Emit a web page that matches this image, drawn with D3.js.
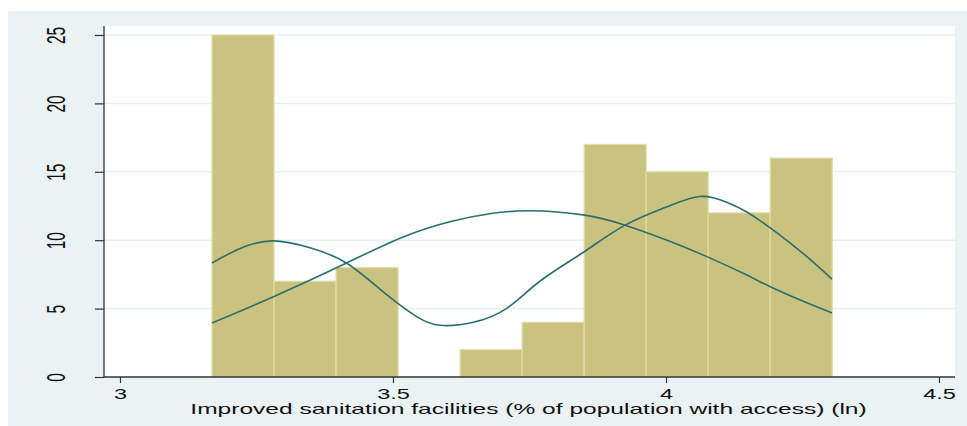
<!DOCTYPE html>
<html>
<head>
<meta charset="utf-8">
<script src="https://cdn.jsdelivr.net/npm/d3@7/dist/d3.min.js"></script>
<style>
  html, body { margin: 0; padding: 0; background: #ffffff; }
  svg { display: block; }
  text { font-family: "Liberation Sans", Arial, sans-serif; fill: #111; }
</style>
</head>
<body>
<svg id="chart" width="967" height="426"></svg>
<script>
// Histogram of ln(improved sanitation access), with normal and kernel density overlays (frequency scale)
const binEdges = [3.1685, 3.2821, 3.3957, 3.5093, 3.6229, 3.7365, 3.8501, 3.9637, 4.0773, 4.1909, 4.3045];
const frequencies = [25, 7, 8, 0, 2, 4, 17, 15, 12, 16];

const normalX = [3.1685, 3.280, 3.416, 3.513, 3.604, 3.680, 3.751, 3.848, 3.925, 4.002, 4.075, 4.148, 4.196, 4.258, 4.304];
const normalY = [3.95, 5.85, 8.35, 10.15, 11.35, 11.95, 12.15, 11.85, 11.1, 10.0, 8.8, 7.45, 6.5, 5.42, 4.68];

const kernelX = [3.1685, 3.220, 3.280, 3.348, 3.416, 3.489, 3.544, 3.586, 3.647, 3.709, 3.769, 3.848, 3.925, 4.002, 4.062, 4.110, 4.148, 4.196, 4.258, 4.304];
const kernelY = [8.33, 9.4, 9.95, 9.45, 8.3, 6.0, 4.4, 3.78, 4.0, 5.04, 7.0, 9.1, 11.1, 12.45, 13.2, 12.8, 12.06, 10.75, 8.8, 7.15];

const xTicks = [3, 3.5, 4, 4.5];
const xTickLabels = ["3", "3.5", "4", "4.5"];
const yTicks = [0, 5, 10, 15, 20, 25];
const xTitle = "Improved sanitation facilities (% of population with access) (ln)";

const W = 967, H = 426;
const plot = { left: 104, right: 955, top: 26, bottom: 377 };
const stretch = 1.68;           // horizontal glyph stretch of the exported graph
const bgColor = "#eaf2f3";
const barFill = "#cac27f";
const barEdge = "#e1dca9";
const lineColor = "#2a6f6f";

const svg = d3.select("#chart");

// outer graph region and plot region
svg.append("rect").attr("x", 8).attr("y", 11).attr("width", W - 8).attr("height", H - 11).attr("fill", bgColor);
svg.append("rect").attr("x", plot.left).attr("y", plot.top)
  .attr("width", plot.right - plot.left).attr("height", plot.bottom - plot.top).attr("fill", "#ffffff");

const x = d3.scaleLinear().domain([3, 4.5]).range([120, 939]);
const y = d3.scaleLinear().domain([0, 25]).range([plot.bottom, 35]);

// horizontal grid
svg.append("g").selectAll("line").data(yTicks.filter(d => d > 0)).join("line")
  .attr("x1", plot.left).attr("x2", plot.right)
  .attr("y1", d => y(d)).attr("y2", d => y(d))
  .attr("stroke", "#e6eff2").attr("stroke-width", 1.5);

// bars
const bins = frequencies.map((f, i) => ({ x0: binEdges[i], x1: binEdges[i + 1], f }));
svg.append("g").selectAll("rect").data(bins.filter(b => b.f > 0)).join("rect")
  .attr("x", b => x(b.x0)).attr("width", b => x(b.x1) - x(b.x0))
  .attr("y", b => y(b.f)).attr("height", b => y(0) - y(b.f))
  .attr("fill", barFill).attr("stroke", barEdge).attr("stroke-width", 1.2);

// density curves
const line = d3.line().x(d => x(d[0])).y(d => y(d[1])).curve(d3.curveNatural);
svg.append("path").datum(normalX.map((v, i) => [v, normalY[i]]))
  .attr("d", line).attr("fill", "none").attr("stroke", lineColor).attr("stroke-width", 1.6);
svg.append("path").datum(kernelX.map((v, i) => [v, kernelY[i]]))
  .attr("d", line).attr("fill", "none").attr("stroke", lineColor).attr("stroke-width", 1.6);

// y axis
const yAxis = svg.append("g").attr("transform", `translate(${plot.left},0)`)
  .call(d3.axisLeft(y).tickValues(yTicks).tickSize(9).tickSizeOuter(0).tickFormat(d3.format("d")));
yAxis.select(".domain").remove();
yAxis.selectAll(".tick line").attr("stroke", "#333").attr("stroke-width", 1.2);
yAxis.selectAll(".tick text")
  .attr("x", 0).attr("y", 0).attr("dy", null)
  .attr("text-anchor", "middle")
  .attr("font-size", 15.5)
  .attr("transform", `translate(-39,0) scale(${stretch},1) rotate(-90)`);
svg.append("line").attr("x1", plot.left).attr("x2", plot.left)
  .attr("y1", plot.top).attr("y2", plot.bottom).attr("stroke", "#333").attr("stroke-width", 1.3);

// x axis
const xAxis = svg.append("g").attr("transform", `translate(0,${plot.bottom})`)
  .call(d3.axisBottom(x).tickValues(xTicks).tickSize(6).tickSizeOuter(0).tickFormat((d, i) => xTickLabels[i]));
xAxis.select(".domain").remove();
xAxis.selectAll(".tick line").attr("stroke", "#333").attr("stroke-width", 1.2);
xAxis.selectAll(".tick text")
  .attr("y", 22).attr("dy", null)
  .attr("font-size", 14)
  .attr("transform", `scale(${stretch},1)`);
svg.append("line").attr("x1", plot.left).attr("x2", plot.right)
  .attr("y1", plot.bottom).attr("y2", plot.bottom).attr("stroke", "#333").attr("stroke-width", 1.3);

// axis title, stretched to the same horizontal proportion as the tick labels
const title = svg.append("text")
  .attr("x", 0).attr("y", 0)
  .attr("text-anchor", "middle")
  .attr("font-size", 14)
  .text(xTitle);
const natural = title.node().getComputedTextLength();
const titleScale = 677 / natural;
title.attr("transform", `translate(${(190 + 867) / 2},414) scale(${titleScale},1)`);
</script>
</body>
</html>
